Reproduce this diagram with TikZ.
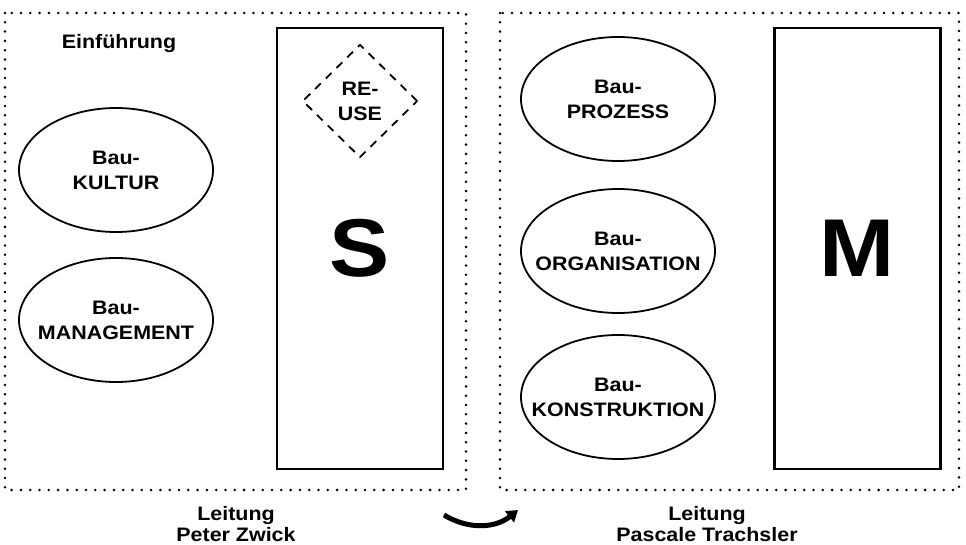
\documentclass[tikz,border=0pt]{standalone}
\usepackage{fontspec}
\setmainfont[FakeStretch=1.1]{Liberation Sans}
\usetikzlibrary{shapes.geometric,arrows.meta}

\begin{document}
\begin{tikzpicture}[x=1pt,y=-1pt,
	every node/.style={font=\fontsize{19.5}{25}\selectfont\bfseries,align=center},
	feld/.style={line width=2.8pt,dash pattern=on 0pt off 9.3pt,line cap=round},
	fach/.style={draw,ellipse,line width=1.8pt,minimum width=194pt,minimum height=124pt,inner sep=0pt,label={center:{#1}}},
	modul/.style={draw,line width=2.8pt,minimum width=166pt,minimum height=441pt,inner sep=0pt,font=\fontsize{82}{82}\selectfont\bfseries},
	leitung/.style={font=\fontsize{19.5}{21}\selectfont\bfseries}]
	\useasboundingbox (0,0) rectangle (966,545);
	\draw[feld] (5,13) rectangle (466,490);
	\draw[feld] (500,13) rectangle (959,490);
	\node (einf) at (119,44) {Einführung};
	\node[fach={Bau-\\KULTUR}] (kultur) at (116,170) {};
	\node[fach={Bau-\\MANAGEMENT}] (management) at (116,320) {};
	\node[modul] (s) at (360,248.5) {S};
	\node[draw,diamond,dashed,dash pattern=on 8pt off 7pt,line width=1.8pt,minimum width=115pt,minimum height=113pt,inner sep=0pt] (reuse) at (360,101) {RE-\\USE};
	\node[fach={Bau-\\PROZESS}] (prozess) at (618,99) {};
	\node[fach={Bau-\\ORGANISATION}] (organisation) at (618,251) {};
	\node[fach={Bau-\\KONSTRUKTION}] (konstruktion) at (618,397) {};
	\node[modul] (m) at (857.5,248.5) {M};
	\node[leitung] (zwick) at (236,524) {Leitung\\Peter Zwick};
	\node[leitung] (trachsler) at (707,524) {Leitung\\Pascale Trachsler};
	\coordinate (wechselA) at (444,515);
	\coordinate (wechselB) at (518,510);
	\draw[line width=5pt,-{Triangle[length=11pt,width=14pt]}] (wechselA) to[bend right=35] (wechselB);
\end{tikzpicture}
\end{document}
